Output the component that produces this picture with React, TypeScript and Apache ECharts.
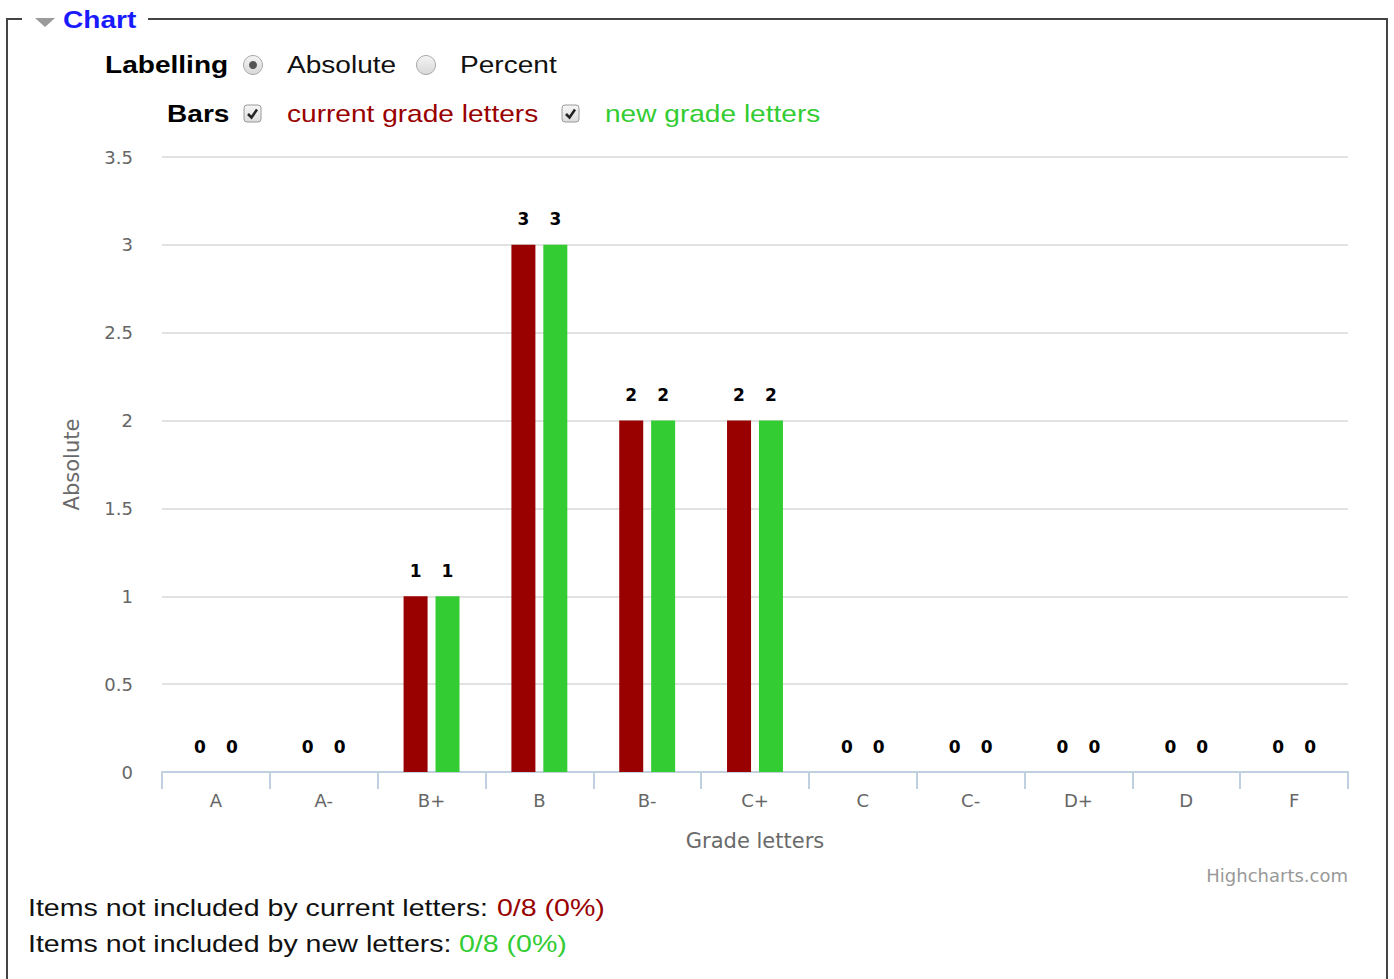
import React, { useEffect, useRef } from "react";
import * as echarts from "echarts";

const categories = ["A", "A-", "B+", "B", "B-", "C+", "C", "C-", "D+", "D", "F"];
const currentLetters = [0, 0, 1, 3, 2, 2, 0, 0, 0, 0, 0];
const newLetters = [0, 0, 1, 3, 2, 2, 0, 0, 0, 0, 0];
const yMin = 0;
const yMax = 3.5;
const yInterval = 0.5;

const RED = "#990000";
const GREEN = "#33cc33";
const HTML_FONT = '"Liberation Sans", Arial, sans-serif';
const CHART_FONT = '"DejaVu Sans", Verdana, sans-serif';
const SX = 1.17;

function htmlText(text: string, x: number, y: number, fill: string, bold = false, sx = SX) {
  return {
    type: "text",
    x,
    y,
    scaleX: sx,
    silent: true,
    style: {
      text,
      fill,
      fontSize: 24,
      fontWeight: bold ? "bold" : "normal",
      fontFamily: HTML_FONT,
      align: "left",
      verticalAlign: "middle",
    },
  };
}

function radio(cx: number, cy: number, checked: boolean) {
  const els: any[] = [
    {
      type: "circle",
      shape: { cx, cy, r: 9.5 },
      style: {
        fill: new echarts.graphic.LinearGradient(0, 0, 0, 1, [
          { offset: 0, color: "#f4f4f4" },
          { offset: 1, color: "#d8d8d8" },
        ]),
        stroke: "#a8a8a8",
        lineWidth: 1,
      },
    },
  ];
  if (checked) {
    els.push({ type: "circle", shape: { cx, cy, r: 4 }, style: { fill: "#555" } });
  }
  return els;
}

function checkbox(x: number, y: number) {
  return [
    {
      type: "rect",
      shape: { x, y, width: 17, height: 17, r: 3 },
      style: {
        fill: new echarts.graphic.LinearGradient(0, 0, 0, 1, [
          { offset: 0, color: "#f6f6f6" },
          { offset: 1, color: "#dcdcdc" },
        ]),
        stroke: "#9a9a9a",
        lineWidth: 1,
      },
    },
    {
      type: "polyline",
      shape: { points: [[x + 4, y + 9], [x + 7.5, y + 12.5], [x + 13, y + 4.5]] },
      style: { stroke: "#222", lineWidth: 2.5, fill: null },
    },
  ];
}

export default function App() {
  const ref = useRef<HTMLDivElement>(null);

  useEffect(() => {
    if (!ref.current) return;
    const chart = echarts.init(ref.current, null, { renderer: "svg" });

    const labelStyle = {
      show: true,
      position: "top",
      distance: 17,
      fontFamily: CHART_FONT,
      fontSize: 17,
      fontWeight: "bold",
      color: "#000",
      textBorderColor: "#fff",
      textBorderWidth: 2,
    };

    chart.setOption({
      animation: false,
      backgroundColor: "#fff",
      grid: { left: 162, right: 46, top: 157, bottom: 207, containLabel: false },
      xAxis: {
        type: "category",
        data: categories,
        name: "Grade letters",
        nameLocation: "middle",
        nameGap: 58,
        nameTextStyle: { fontFamily: CHART_FONT, fontSize: 21, color: "#6a6a6a" },
        axisLine: { show: true, lineStyle: { color: "#c0d0e0", width: 2 } },
        axisTick: { show: true, length: 17, lineStyle: { color: "#c0d0e0", width: 2 } },
        axisLabel: { margin: 19, fontFamily: CHART_FONT, fontSize: 18, color: "#666" },
        splitLine: { show: false },
      },
      yAxis: {
        type: "value",
        min: yMin,
        max: yMax,
        interval: yInterval,
        name: "Absolute",
        nameLocation: "middle",
        nameGap: 80,
        nameTextStyle: { fontFamily: CHART_FONT, fontSize: 21, color: "#6a6a6a" },
        axisLine: { show: false },
        axisTick: { show: false },
        axisLabel: { margin: 29, fontFamily: CHART_FONT, fontSize: 18, color: "#666" },
        splitLine: { show: true, lineStyle: { color: "#e2e2e2", width: 2 } },
      },
      series: [
        {
          name: "current grade letters",
          type: "bar",
          data: currentLetters,
          barWidth: 24,
          barGap: "33%",
          itemStyle: { color: RED },
          label: labelStyle,
        },
        {
          name: "new grade letters",
          type: "bar",
          data: newLetters,
          barWidth: 24,
          barGap: "33%",
          itemStyle: { color: GREEN },
          label: labelStyle,
        },
      ],
      graphic: {
        elements: [
          // fieldset border
          {
            type: "polyline",
            shape: { points: [[22, 19], [7, 19], [7, 979]] },
            style: { stroke: "#444", lineWidth: 2, fill: null },
          },
          {
            type: "polyline",
            shape: { points: [[148, 19], [1387, 19], [1387, 979]] },
            style: { stroke: "#444", lineWidth: 2, fill: null },
          },
          {
            type: "polygon",
            shape: { points: [[35, 18], [55, 18], [45, 27]] },
            style: { fill: "#9a9a9a" },
          },
          htmlText("Chart", 63, 20, "#1a1aff", true),
          // Labelling row
          htmlText("Labelling", 105, 65, "#000", true),
          ...radio(253, 65, true),
          htmlText("Absolute", 287, 65, "#111"),
          ...radio(426, 65, false),
          htmlText("Percent", 460, 65, "#111"),
          // Bars row
          htmlText("Bars", 167, 114, "#000", true),
          ...checkbox(244, 105),
          htmlText("current grade letters", 287, 114, RED),
          ...checkbox(562, 105),
          htmlText("new grade letters", 605, 114, GREEN),
          // credits
          {
            type: "text",
            x: 1348,
            y: 875,
            silent: true,
            style: {
              text: "Highcharts.com",
              fill: "#999",
              fontSize: 18,
              fontFamily: CHART_FONT,
              align: "right",
              verticalAlign: "middle",
            },
          },
          // bottom summary
          htmlText("Items not included by current letters: ", 28, 908, "#111", false, 1.19),
          htmlText("0/8 (0%)", 497, 908, RED, false, 1.19),
          htmlText("Items not included by new letters: ", 28, 944, "#111", false, 1.19),
          htmlText("0/8 (0%)", 459, 944, GREEN, false, 1.19),
        ],
      },
    });

    return () => {
      chart.dispose();
    };
  }, []);

  return (
    <div
      ref={ref}
      style={{ position: "absolute", left: 0, top: 0, width: 1394, height: 979 }}
    />
  );
}
